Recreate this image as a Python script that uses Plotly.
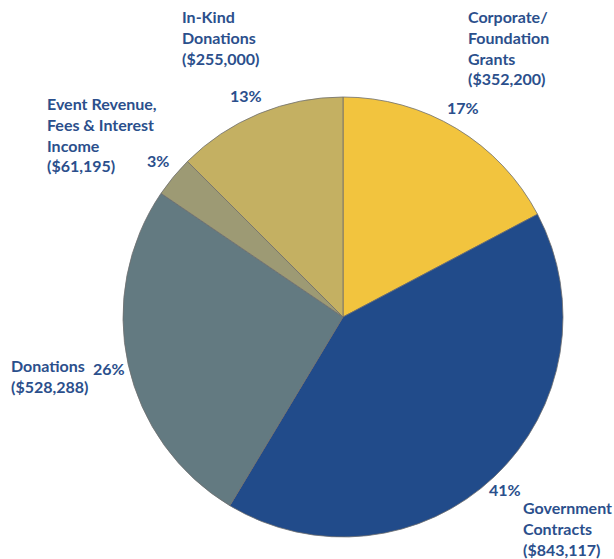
import plotly.graph_objects as go

W, H = 614, 559

categories = ["Corporate/<br>Foundation<br>Grants", "Government<br>Contracts", "Donations",
              "Event Revenue,<br>Fees & Interest<br>Income", "In-Kind<br>Donations"]
amounts = [352200, 843117, 528288, 61195, 255000]
colors = ["#F2C43E", "#214B8A", "#637A81", "#9D9A74", "#C4B062"]

total = sum(amounts)
pcts = [round(100 * a / total) for a in amounts]

TXT = "#2B4F8C"
FONT = "Lato"
FS = 16

cx, cy, r = 343, 317, 220

fig = go.Figure(go.Pie(
    values=amounts,
    labels=[c.replace("<br>", " ") for c in categories],
    marker=dict(colors=colors, line=dict(color="#6e6e6e", width=0.8)),
    sort=False,
    direction="clockwise",
    rotation=0,
    textinfo="none",
    hoverinfo="label+value+percent",
    showlegend=False,
    domain=dict(x=[(cx - r) / W, (cx + r) / W], y=[1 - (cy + r) / H, 1 - (cy - r) / H]),
))

# label placement (pixels, top-left of text block) and percent placement (pixel centers)
label_pos = [(466, 5), (521, 496), (9, 354), (45, 92), (180, 5)]
pct_pos = [(463, 107), (505, 489), (109, 368), (158, 160), (246, 95)]

annotations = []
for cat, amt, p, (lx, ly), (px, py) in zip(categories, amounts, pcts, label_pos, pct_pos):
    annotations.append(dict(
        text=f"{cat}<br>(${amt:,})", x=lx / W, y=1 - ly / H,
        xref="paper", yref="paper",
        xanchor="left", yanchor="top", align="left", showarrow=False,
        font=dict(family=FONT, size=FS, color=TXT, weight="bold")))
    annotations.append(dict(
        text=f"{p}%", x=px / W, y=1 - py / H, xref="paper", yref="paper",
        xanchor="center", yanchor="middle", showarrow=False,
        font=dict(family=FONT, size=FS, color=TXT, weight="bold")))

fig.update_layout(
    width=W, height=H, autosize=False,
    margin=dict(l=0, r=0, t=0, b=0),
    paper_bgcolor="white", plot_bgcolor="white",
    annotations=annotations,
)

fig.write_html(
    "out.html",
    config={"displayModeBar": False},
    post_script="document.body.style.margin='0';document.body.style.overflow='hidden';",
)
